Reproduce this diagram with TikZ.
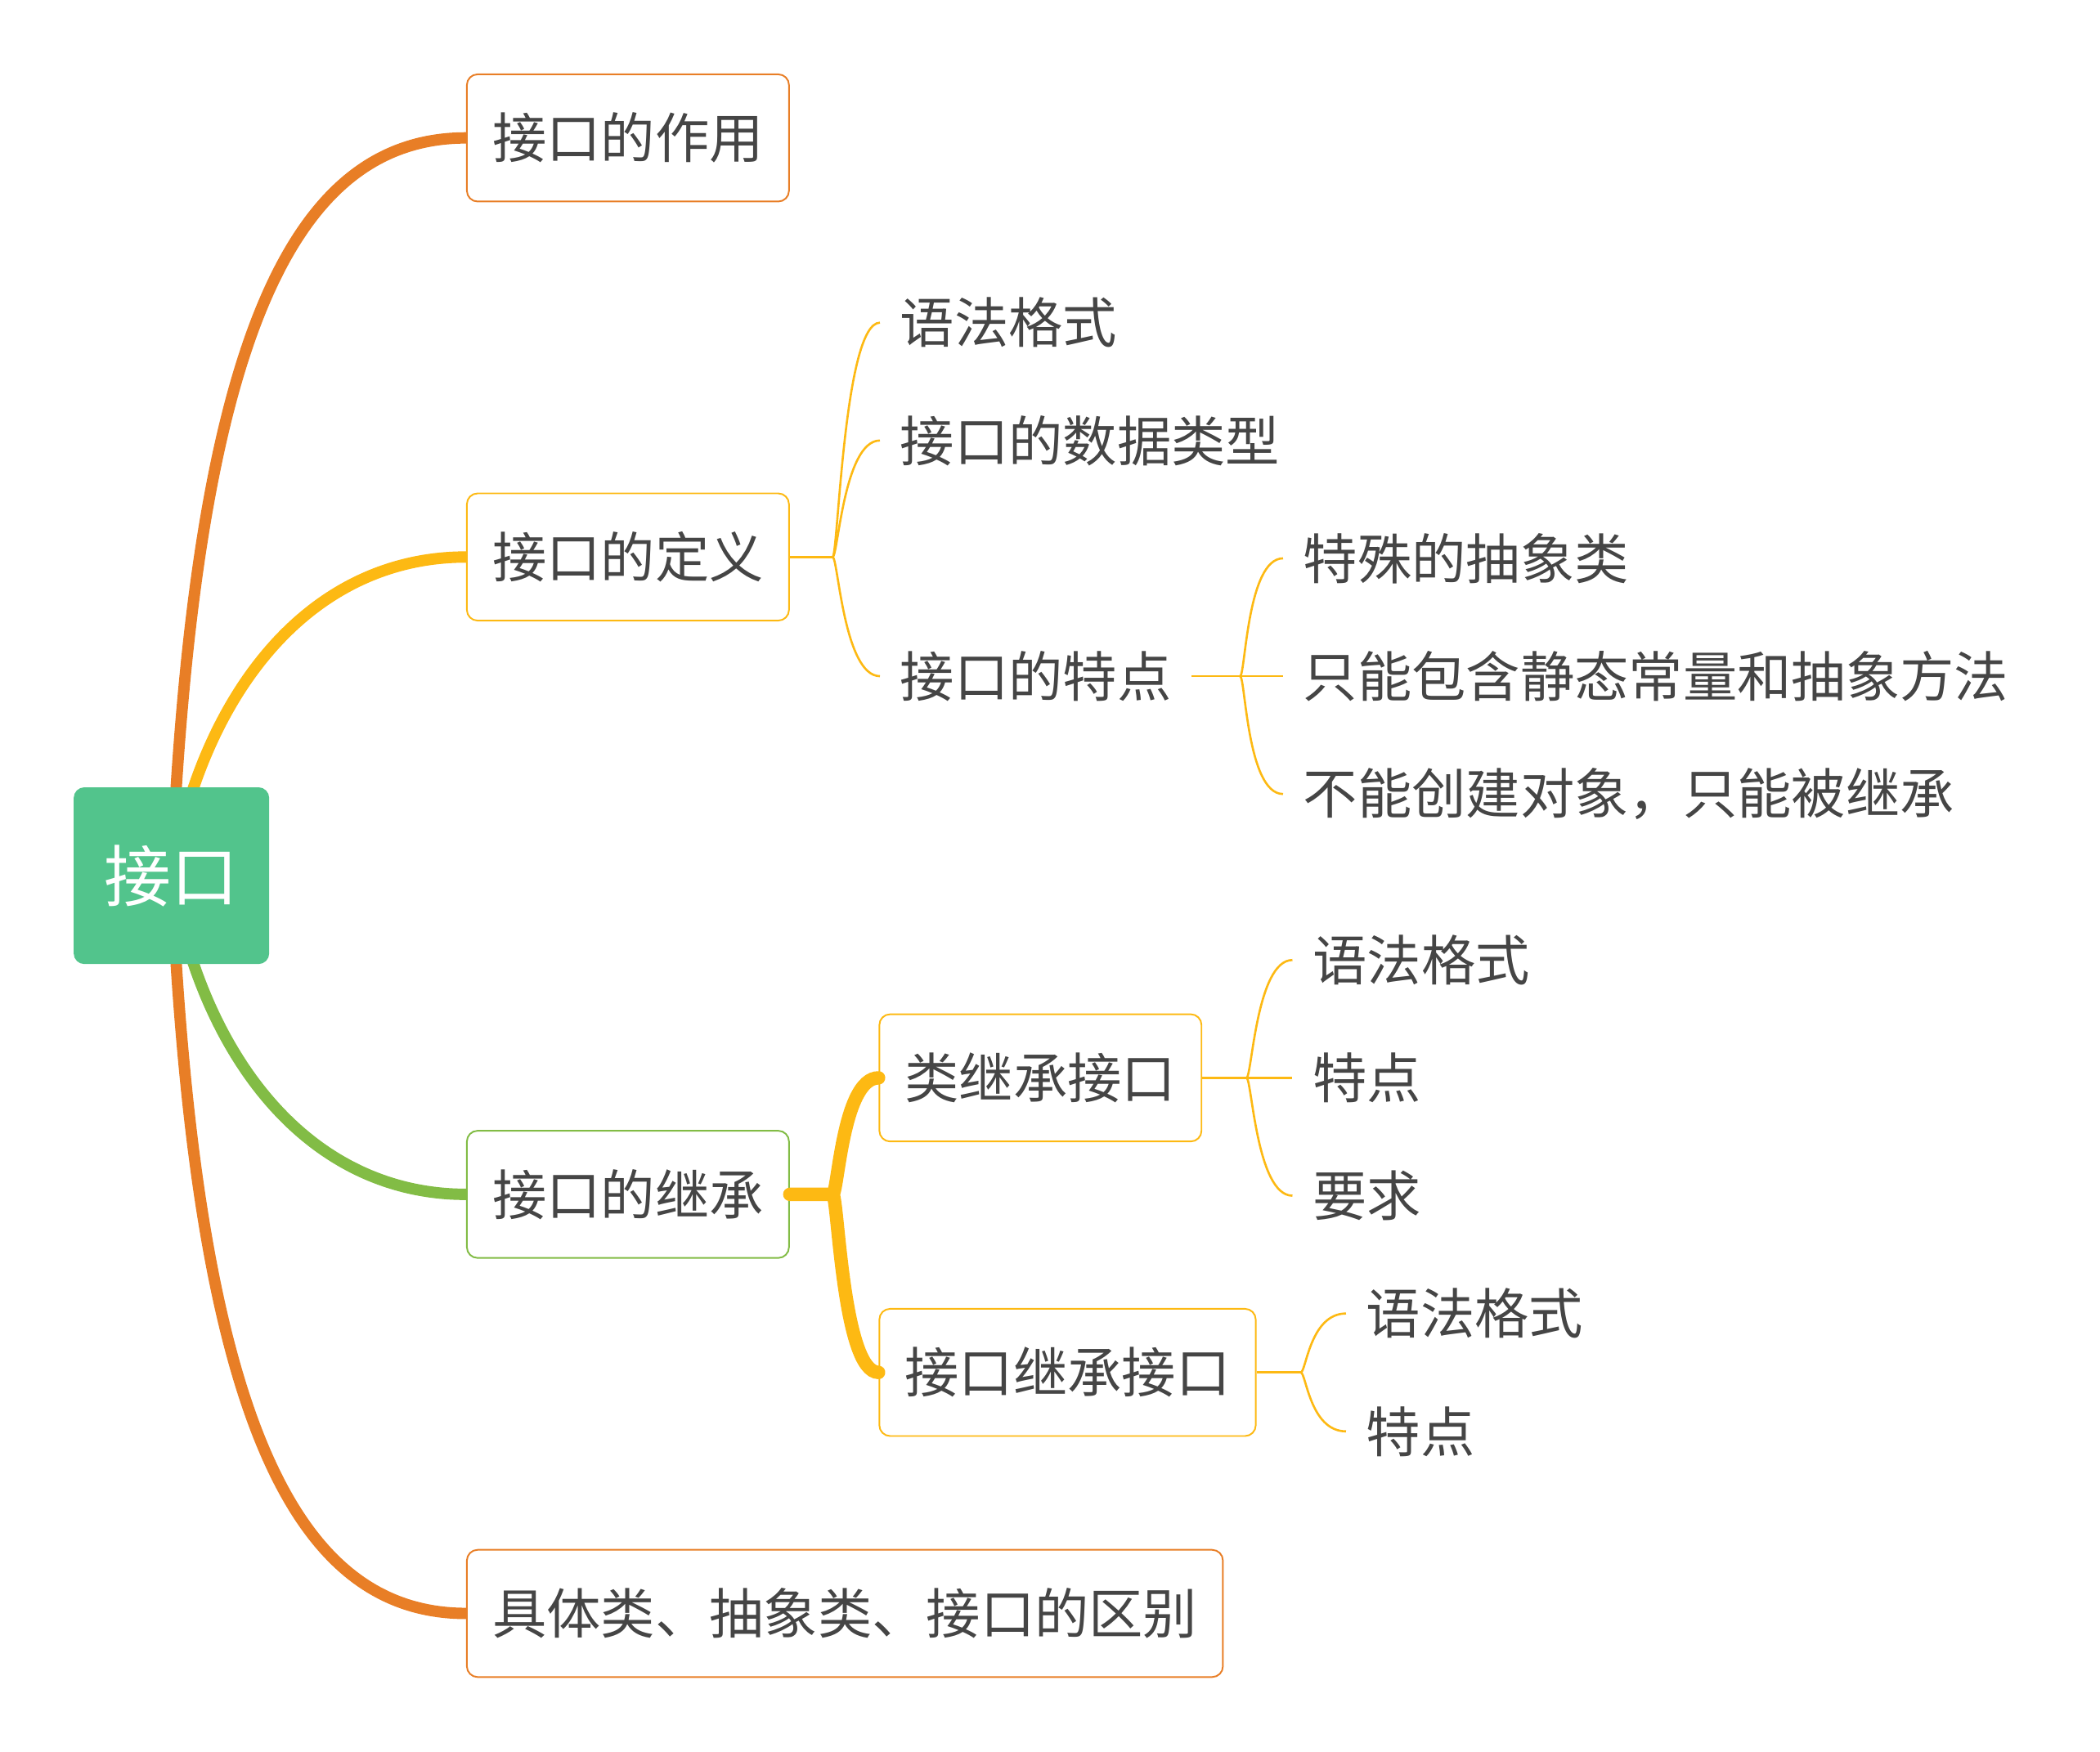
\documentclass[tikz,border=0pt]{standalone}
\usepackage{fontspec}
\setmainfont{Noto Sans CJK SC}
\usetikzlibrary{calc}

\definecolor{branchorange}{HTML}{E87E26}
\definecolor{branchyellow}{HTML}{FDB913}
\definecolor{branchgreen}{HTML}{82BC45}
\definecolor{rootgreen}{HTML}{52C48C}
\definecolor{textgray}{HTML}{454545}

\pgfdeclarelayer{bg}
\pgfsetlayers{bg,main}

\tikzset{
  topic/.style={draw=#1, line width=1.2pt, rounded corners=8pt, fill=white,
    minimum height=95pt, inner xsep=19pt, text=textgray,
    font=\fontsize{40.5}{48}\selectfont, anchor=west},
  leaf/.style={inner xsep=15pt, inner ysep=2pt, text=textgray,
    font=\fontsize{40.5}{48}\selectfont, anchor=west},
  mainline/.style={line width=8.5pt, draw=#1},
  subline/.style={line width=1.6pt, draw=branchyellow},
  fork/.style={to path={.. controls ($(\tikztostart)+(4,0)$) and ($(\tikztotarget)+(-27,0)$) .. (\tikztotarget)}},
}

\begin{document}
\begin{tikzpicture}[x=1pt, y=-1pt]
    \useasboundingbox (0,0) rectangle (1568,1308);

    % 中心
    \node[fill=rootgreen, rounded corners=8pt, minimum width=146pt, minimum height=132pt,
      inner sep=0pt, text=white, font=\fontsize{50}{60}\selectfont] (root) at (128,654) {接口};

    % 一级分支
    \node[topic=branchorange] (zuoyong) at (348,103) {接口的作用};
    \node[topic=branchyellow] (dingyi) at (348,416) {接口的定义};
    \node[topic=branchgreen] (jicheng) at (348,892) {接口的继承};
    \node[topic=branchorange] (qubie) at (348,1205) {具体类、抽象类、接口的区别};

    \begin{pgfonlayer}{bg}
      \draw[mainline=branchorange] (root.center) .. controls +(18,-405) and +(-128,0) .. (zuoyong.west);
      \draw[mainline=branchyellow] (root.center) .. controls +(23,-135) and +(-118,0) .. (dingyi.west);
      \draw[mainline=branchgreen] (root.center) .. controls +(23,135) and +(-118,0) .. (jicheng.west);
      \draw[mainline=branchorange] (root.center) .. controls +(18,405) and +(-128,0) .. (qubie.west);
    \end{pgfonlayer}

    % 接口的定义
    \node[leaf] (defyufa) at (657,241) {语法格式};
    \node[leaf] (defleixing) at (657,329) {接口的数据类型};
    \node[leaf] (deftedian) at (657,505) {接口的特点};
    \coordinate (jdef) at ($(dingyi.east)+(32,0)$);
    \draw[subline] (dingyi.east) -- (jdef);
    \foreach \c in {defyufa, defleixing, deftedian}
      \draw[subline] (jdef) to[fork] (\c.west);

    % 接口的特点
    \node[leaf] (teshu) at (958,417) {特殊的抽象类};
    \node[leaf] (baohan) at (958,505) {只能包含静态常量和抽象方法};
    \node[leaf] (buneng) at (958,593) {不能创建对象，只能被继承};
    \coordinate (jtd) at ($(deftedian.east)+(36,0)$);
    \draw[subline] (deftedian.east) -- (jtd);
    \foreach \c in {teshu, baohan, buneng}
      \draw[subline] (jtd) to[fork] (\c.west);

    % 接口的继承
    \node[topic=branchyellow] (leijicheng) at (656,805) {类继承接口};
    \node[topic=branchyellow] (jkjicheng) at (656,1025) {接口继承接口};
    \coordinate (jjc) at ($(jicheng.east)+(32,0)$);
    \draw[line width=10pt, branchyellow, line cap=round] (jicheng.east) -- (jjc) to[fork] (leijicheng.west);
    \draw[line width=10pt, branchyellow, line cap=round] (jjc) to[fork] (jkjicheng.west);

    % 类继承接口
    \node[leaf] (leiyufa) at (965,717) {语法格式};
    \node[leaf] (leitedian) at (965,805) {特点};
    \node[leaf] (leiyaoqiu) at (965,893) {要求};
    \coordinate (jlei) at ($(leijicheng.east)+(33,0)$);
    \draw[subline] (leijicheng.east) -- (jlei);
    \foreach \c in {leiyufa, leitedian, leiyaoqiu}
      \draw[subline] (jlei) to[fork] (\c.west);

    % 接口继承接口
    \node[leaf] (jkyufa) at (1005,981) {语法格式};
    \node[leaf] (jktedian) at (1005,1069) {特点};
    \coordinate (jjk) at ($(jkjicheng.east)+(33,0)$);
    \draw[subline] (jkjicheng.east) -- (jjk);
    \foreach \c in {jkyufa, jktedian}
      \draw[subline] (jjk) to[fork] (\c.west);
\end{tikzpicture}
\end{document}
